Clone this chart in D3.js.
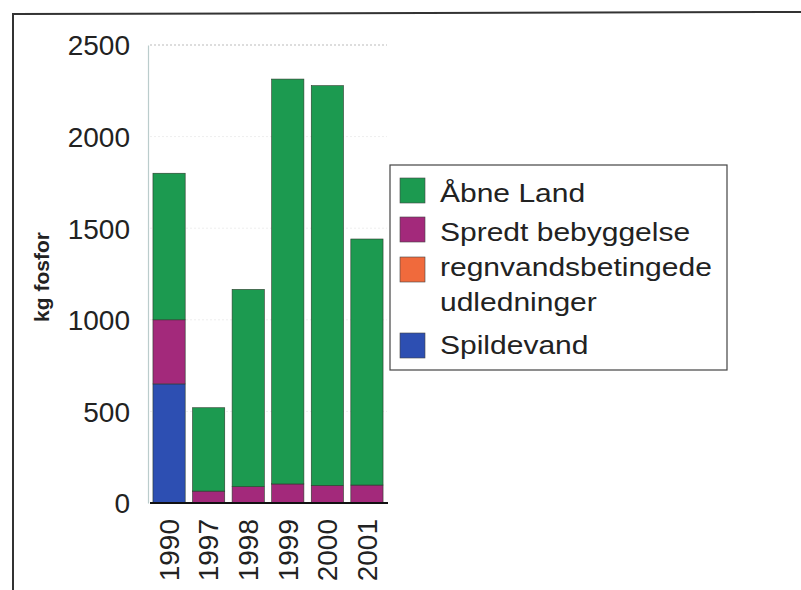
<!DOCTYPE html>
<html><head><meta charset="utf-8">
<script src="https://cdn.jsdelivr.net/npm/d3@7"></script>
<style>body{margin:0;background:#fff}svg{display:block}text{font-family:"Liberation Sans",Arial,sans-serif}</style>
</head><body>
<svg id="c" width="801" height="590"></svg>
<script>
const years = ["1990","1997","1998","1999","2000","2001"];
const spildevand = [650, 0, 0, 0, 0, 0];
const regnvand = [0, 0, 0, 0, 0, 0];
const spredt = [350, 65, 89, 104, 96, 98];
const aabneLand = [800, 455, 1077, 2210, 2182, 1343];
const seriesNames = ["Spildevand","regnvandsbetingede udledninger","Spredt bebyggelse","Åbne Land"];
const seriesColors = ["#2d4fb2","#f06a3c","#a3297b","#1c9a50"];
const yTicks = [0,500,1000,1500,2000,2500];
const yTitle = "kg fosfor";

const svg = d3.select("#c");
// frame
svg.append("path").attr("d","M13,590 L13,14 L801,12").attr("fill","none").attr("stroke","#333").attr("stroke-width",2);

const x = d3.scaleBand().domain(years).range([149,387]).paddingInner(0.186).paddingOuter(0.1);
const y = d3.scaleLinear().domain([0,2500]).range([503,45]);

// gridlines
svg.append("g").selectAll("line").data(yTicks.slice(1)).join("line")
  .attr("x1",150).attr("x2",387).attr("y1",d=>y(d)).attr("y2",d=>y(d))
  .attr("stroke",d=>d===2500?"#bbb":"#eee").attr("stroke-width",1).attr("stroke-dasharray","2,2");

const table = years.map((yr,i)=>({year:yr, s0:spildevand[i], s1:regnvand[i], s2:spredt[i], s3:aabneLand[i]}));
const stack = d3.stack().keys(["s0","s1","s2","s3"])(table);
svg.append("g").selectAll("g").data(stack).join("g")
  .attr("fill",(d,i)=>seriesColors[i])
  .selectAll("rect").data(d=>d.filter(v=>v[1]-v[0]>0)).join("rect")
  .attr("x",d=>x(d.data.year)).attr("width",x.bandwidth())
  .attr("y",d=>y(d[1])).attr("height",d=>y(d[0])-y(d[1]))
  .attr("stroke","#2a3a2a").attr("stroke-width",0.6);

// y axis
const ya = svg.append("g").attr("transform","translate(148,0)").call(d3.axisLeft(y).tickValues(yTicks).tickSize(0).tickPadding(18).tickFormat(d3.format("d")));
ya.select(".domain").attr("stroke","#bcc").attr("stroke-width",1.2);
ya.selectAll("text").attr("font-size",28).attr("fill","#222").attr("dy","0.35em");

// x axis
const xa = svg.append("g").attr("transform","translate(0,503)").call(d3.axisBottom(x).tickSize(0).tickPadding(0));
xa.select(".domain").attr("d","M150,0H388").attr("stroke","#111").attr("stroke-width",2);
xa.selectAll("text").attr("font-size",28).attr("fill","#222")
  .attr("transform","translate(0,16) rotate(-90)").attr("text-anchor","end").attr("dy","0.35em").attr("y",0).attr("x",0);

// y title
svg.append("text").attr("transform","translate(49,277) rotate(-90)").attr("text-anchor","middle")
  .attr("font-size",21).attr("font-weight","bold").attr("fill","#222").text(yTitle);

// legend
const lg = svg.append("g");
lg.append("rect").attr("x",390).attr("y",165).attr("width",337).attr("height",205).attr("fill","#fff").attr("stroke","#444").attr("stroke-width",1.2);
const legendItems = [
  {c:3, lines:["Åbne Land"], sy:178, by:[202]},
  {c:2, lines:["Spredt bebyggelse"], sy:217, by:[241]},
  {c:1, lines:["regnvandsbetingede","udledninger"], sy:257, by:[276,311]},
  {c:0, lines:["Spildevand"], sy:333, by:[354]}
];
legendItems.forEach(it=>{
  lg.append("rect").attr("x",400).attr("y",it.sy).attr("width",25).attr("height",25).attr("fill",seriesColors[it.c]).attr("stroke","#444").attr("stroke-width",0.6);
  it.lines.forEach((t,j)=>lg.append("text").attr("transform",`translate(440,${it.by[j]}) scale(1.2,1)`).attr("font-size",25).attr("fill","#222").text(t));
});
</script>
</body></html>
